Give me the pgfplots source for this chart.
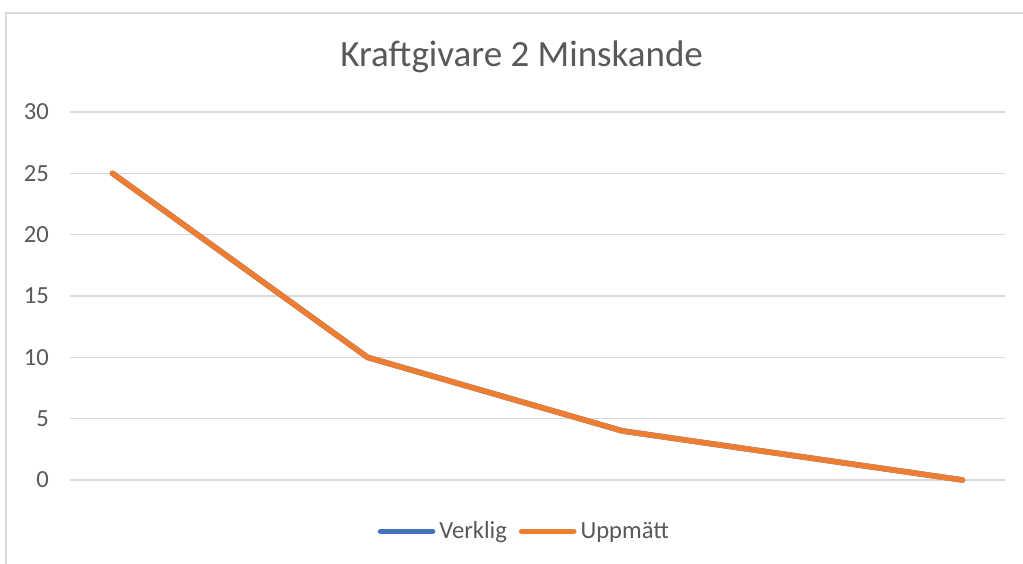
\documentclass[border=0pt]{standalone}
\usepackage{fontspec}
\setmainfont{Carlito}
\usepackage{pgfplots}
\pgfplotsset{compat=1.18}
\definecolor{xlblue}{HTML}{4472C4}
\definecolor{xlorange}{HTML}{ED7D31}
\definecolor{xlgrid}{HTML}{D9D9D9}
\definecolor{xltext}{HTML}{595959}
\begin{document}
\begin{tikzpicture}
\clip (0,0) rectangle (511.5pt,281.5pt);
\fill[white] (0,0) rectangle (511.5pt,281.5pt);
\draw[xlgrid, line width=0.8pt] (3pt,-20pt) rectangle (530pt,275pt);
\begin{axis}[
    at={(35pt,41.5pt)}, anchor=south west,
    width=467.5pt, height=184pt, scale only axis,
    xmin=-0.5, xmax=10.5, ymin=0, ymax=30,
    ytick={0,5,...,30}, xtick=\empty,
    ymajorgrids, grid style={xlgrid, line width=0.8pt},
    axis line style={draw=none},
    major tick length=0pt,
    yticklabel style={font=\fontsize{12.3}{14}\selectfont, text=xltext, xshift=-7pt},
    /pgf/number format/assume math mode=true,
    title={Kraftgivare 2 Minskande},
    title style={font=\fontsize{18.5}{21}\selectfont, text=xltext, at={(axis description cs:0.483,1.118)}, anchor=center},
    legend columns=2,
    legend style={draw=none, fill=none, font=\fontsize{12.3}{14}\selectfont, text=xltext,
        at={(axis description cs:0.487,-0.140)}, anchor=center,
        /tikz/every even column/.append style={column sep=4pt}},
    legend image code/.code={\draw[#1, line cap=round] (0pt,0pt) -- (26pt,0pt);},
    clip=false,
]
\addplot[xlblue, line width=2.8pt, line cap=round, line join=round] coordinates {(0,25) (3,10) (6,4) (10,0)};
\addlegendentry{Verklig}
\addplot[xlorange, line width=2.8pt, line cap=round, line join=round] coordinates {(0,25) (3,10) (6,4) (10,0)};
\addlegendentry{Uppmätt}
\end{axis}
\end{tikzpicture}
\end{document}
